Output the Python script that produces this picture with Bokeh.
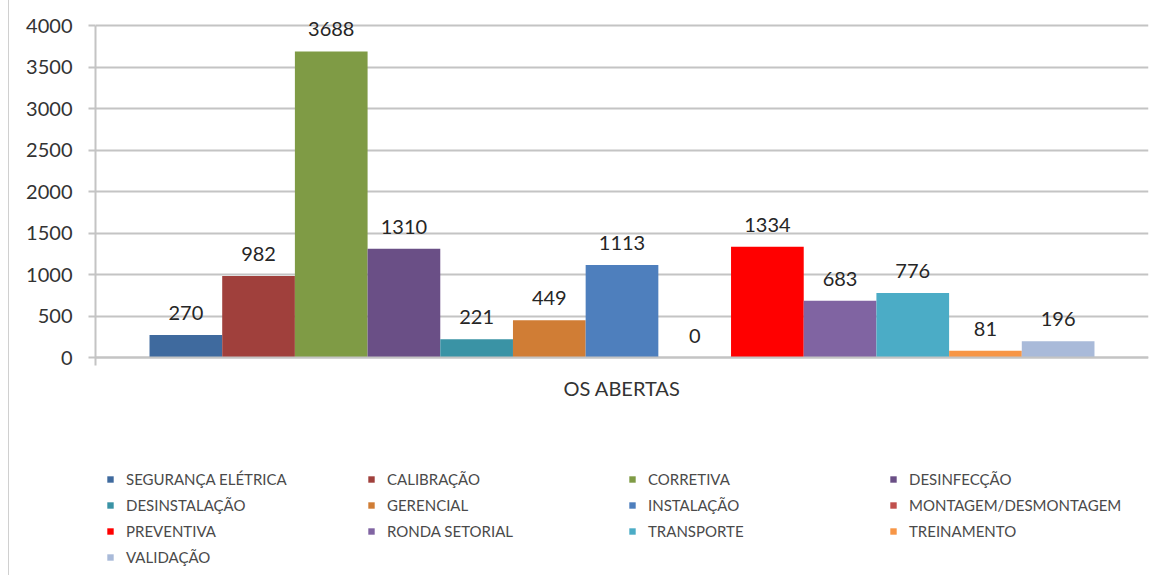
from bokeh.plotting import figure
from bokeh.models import (ColumnDataSource, FactorRange, Range1d, Legend, LegendItem,
                          FixedTicker)
from bokeh.transform import dodge
from bokeh.core.properties import value
from bokeh.embed import file_html
from bokeh.resources import INLINE

# ---- data ----
category = "OS ABERTAS"
series = ["SEGURANÇA ELÉTRICA", "CALIBRAÇÃO", "CORRETIVA", "DESINFECÇÃO",
          "DESINSTALAÇÃO", "GERENCIAL", "INSTALAÇÃO", "MONTAGEM/DESMONTAGEM",
          "PREVENTIVA", "RONDA SETORIAL", "TRANSPORTE", "TREINAMENTO", "VALIDAÇÃO"]
counts = [270, 982, 3688, 1310, 221, 449, 1113, 0, 1334, 683, 776, 81, 196]
colors = ["#3F6A9E", "#A0403C", "#7F9B45", "#6A4F86", "#3A93A5", "#D07D35",
          "#4E7FBD", "#C0504D", "#FF0000", "#8064A2", "#4BACC6", "#F79646", "#A9BAD9"]
y_ticks = [0, 500, 1000, 1500, 2000, 2500, 3000, 3500, 4000]

FONT = value("Lato")
GRID = "#c4c4c4"

# layout (pixels): value axis spans 332 px for 0..4000; the frame continues
# 20 px above the top gridline and 218 px below zero (room for labels/legend)
Y_TOP = 4000
PLOT_PX, ABOVE_PX, BELOW_PX = 332, 20, 218
units_per_px = Y_TOP / PLOT_PX
y_min = -BELOW_PX * units_per_px
y_max = Y_TOP + ABOVE_PX * units_per_px

p = figure(width=1146, height=575,
           x_range=FactorRange(category, range_padding=0),
           y_range=Range1d(y_min, y_max),
           output_backend="svg", toolbar_location=None,
           min_border_left=86, min_border_top=25 - ABOVE_PX, min_border_right=7,
           min_border_bottom=0)
p.styles = {"margin-left": "8px", "border-left": "1px solid #d0d0d0"}
p.outline_line_color = None
p.background_fill_color = "white"
p.border_fill_color = "white"

# bars
n = len(series)
bar_w = 0.8974 / n
items = []
for i, (name, val, col) in enumerate(zip(series, counts, colors)):
    off = (i - (n - 1) / 2) * bar_w
    src = ColumnDataSource(dict(cat=[category], val=[val], lbl=[str(val)]))
    r = p.vbar(x=dodge("cat", off, range=p.x_range), top="val", width=bar_w,
               source=src, fill_color=col, line_color=None)
    p.text(x=dodge("cat", off, range=p.x_range), y="val", text="lbl", source=src,
           text_align="center", text_baseline="middle", y_offset=-22,
           text_font=FONT, text_font_size="20px", text_color="#262626")
    items.append(LegendItem(label=name, renderers=[r]))

# axes
p.yaxis.ticker = FixedTicker(ticks=y_ticks)
p.yaxis.bounds = (-8 * units_per_px, Y_TOP)
p.yaxis.axis_line_color = GRID
p.yaxis.axis_line_width = 2
p.yaxis.major_tick_line_color = GRID
p.yaxis.major_tick_line_width = 2
p.yaxis.major_tick_out = 7
p.yaxis.major_tick_in = 0
p.yaxis.minor_tick_line_color = None
p.yaxis.major_label_standoff = 16
p.yaxis.major_label_text_font = "Lato"
p.yaxis.major_label_text_font_size = "20px"
p.yaxis.major_label_text_color = "#333333"

p.xaxis.fixed_location = 0
p.xaxis.axis_line_color = GRID
p.xaxis.axis_line_width = 2
p.xaxis.major_tick_line_color = None
p.xaxis.major_tick_out = 0
p.xaxis.major_tick_in = 0
p.xaxis.major_label_standoff = 18
p.xaxis.major_label_text_font = "Lato"
p.xaxis.major_label_text_font_size = "20px"
p.xaxis.major_label_text_color = "#333333"

p.xgrid.grid_line_color = None
p.ygrid.ticker = FixedTicker(ticks=y_ticks)
p.ygrid.grid_line_color = GRID
p.ygrid.grid_line_width = 2

legend = Legend(items=items, orientation="horizontal", ncols=4,
                location=(11, 9),
                glyph_width=8, glyph_height=8, label_standoff=12,
                label_width=233, label_height=18, spacing=8, padding=0, margin=0,
                label_text_font="Lato", label_text_font_size="15px",
                label_text_color="#4a4a4a",
                border_line_color=None, background_fill_alpha=0)
p.add_layout(legend)

open("out.html", "w").write(file_html(p, INLINE))
